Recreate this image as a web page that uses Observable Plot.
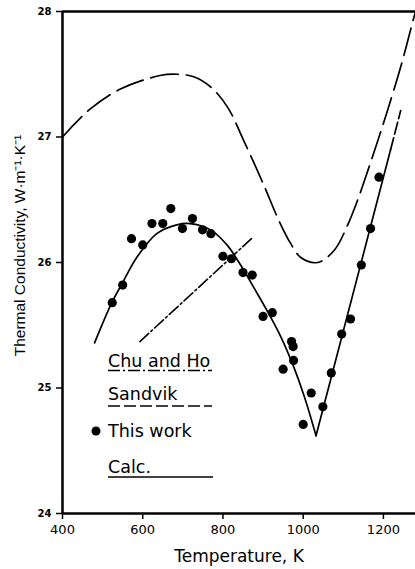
<!DOCTYPE html>
<html><head><meta charset="utf-8">
<script src="https://cdn.jsdelivr.net/npm/d3@7"></script>
<script src="https://cdn.jsdelivr.net/npm/@observablehq/plot@0.6"></script>
<style>
body{margin:0;background:#fff;}
#wrap{position:relative;width:415px;height:569px;}
#legend{position:absolute;left:0;top:0;pointer-events:none;}
</style></head><body><div id="wrap"></div>
<script>
// Measured data ("This work")
const workT = [524, 550, 572, 600, 623, 650, 670, 699, 724, 749, 770, 800, 821, 850, 873, 900, 923, 950, 971, 975, 976, 1000, 1020, 1049, 1070, 1096, 1118, 1145, 1168, 1189];
const workK = [25.68, 25.82, 26.19, 26.14, 26.31, 26.31, 26.43, 26.27, 26.35, 26.26, 26.23, 26.05, 26.03, 25.92, 25.90, 25.57, 25.60, 25.15, 25.37, 25.33, 25.22, 24.71, 24.96, 24.85, 25.12, 25.43, 25.55, 25.98, 26.27, 26.68];

// Calc. curve (left branch, smooth) and right branch (straight)
const calcLeftT = [480, 523, 550, 585, 635, 685, 718, 769, 810, 844, 877, 911, 944, 975, 1003, 1032];
const calcLeftK = [25.36, 25.68, 25.84, 26.04, 26.23, 26.30, 26.31, 26.26, 26.14, 25.98, 25.80, 25.61, 25.41, 25.18, 24.93, 24.62];
const calcRightT = [1032, 1218];
const calcRightK = [24.62, 26.90];
const calcTailT = [1218, 1243];
const calcTailK = [26.90, 27.21];

// Sandvik curve
const sandT = [400, 468, 543, 643, 685, 727, 769, 811, 852, 900, 940, 969, 994, 1036, 1078, 1111, 1136, 1162, 1187, 1212, 1245, 1274, 1280];
const sandK = [27.00, 27.22, 27.38, 27.49, 27.50, 27.48, 27.40, 27.24, 26.97, 26.63, 26.33, 26.15, 26.04, 26.00, 26.10, 26.30, 26.50, 26.74, 26.98, 27.23, 27.58, 27.93, 28.00];

// Chu and Ho line
const chuT = [593, 871];
const chuK = [25.37, 26.19];

const xTicks = [400, 600, 800, 1000, 1200];
const yTicks = [24, 25, 26, 27, 28];
const yTitle = "Thermal Conductivity, W·m⁻¹·K⁻¹";

const pts = (T, K) => T.map((t, i) => ({T: t, K: K[i]}));

const plot = Plot.plot({
  width: 415, height: 569,
  marginTop: 11, marginBottom: 56, marginLeft: 62, marginRight: 0,
  x: {domain: [400, 1280]},
  y: {domain: [24, 28]},
  style: {fontFamily: "DejaVu Sans", background: "#fff", color: "#000", overflow: "visible"},
  marks: [
    Plot.axisX({ticks: xTicks, tickFormat: d => String(d), tickSize: 6, tickPadding: 5, fontSize: 13, label: null, strokeWidth: 1.5}),
    Plot.axisX({ticks: [], tickSize: 0, fontSize: 17, dx: 6, label: "Temperature, K", labelAnchor: "center", labelArrow: "none", labelOffset: 48}),
    Plot.axisY({ticks: yTicks, tickFormat: d => String(d), tickSize: 6, tickPadding: 5, fontSize: 10, fontWeight: "bold", label: null, strokeWidth: 1.5}),
    Plot.text([yTitle], {frameAnchor: "left", rotate: -90, dx: -42, dy: -17, fontSize: 15.5, fontFamily: "Liberation Sans", textAnchor: "middle"}),
    Plot.ruleX([400], {strokeWidth: 2.5}),
    Plot.ruleY([24, 28], {strokeWidth: 2.5}),
    Plot.line(pts(sandT, sandK), {x: "T", y: "K", curve: "catmull-rom", strokeWidth: 1.7, strokeDasharray: "28,8"}),
    Plot.line(pts(chuT, chuK), {x: "T", y: "K", strokeWidth: 1.6, strokeDasharray: "12,3,2,3"}),
    Plot.line(pts(calcLeftT, calcLeftK), {x: "T", y: "K", curve: "catmull-rom", strokeWidth: 1.7}),
    Plot.line(pts(calcRightT, calcRightK), {x: "T", y: "K", strokeWidth: 1.7}),
    Plot.line(pts(calcTailT, calcTailK), {x: "T", y: "K", strokeWidth: 1.7, strokeDasharray: "12,4"}),
    Plot.dot(pts(workT, workK), {x: "T", y: "K", r: 4.6, fill: "#000", stroke: "none"})
  ]
});
document.getElementById("wrap").appendChild(plot);

// Legend overlay
const ns = "http://www.w3.org/2000/svg";
const leg = document.createElementNS(ns, "svg");
leg.setAttribute("id", "legend");
leg.setAttribute("width", 415); leg.setAttribute("height", 569);
leg.innerHTML = `
<g font-family="DejaVu Sans" font-size="17.5" fill="#000">
  <text x="108" y="367">Chu and Ho</text>
  <line x1="108" x2="212" y1="370.5" y2="370.5" stroke="#000" stroke-width="1.5" stroke-dasharray="12,3,2,3"/>
  <text x="108" y="400">Sandvik</text>
  <line x1="108" x2="212" y1="406" y2="406" stroke="#000" stroke-width="1.5" stroke-dasharray="12,4"/>
  <circle cx="96" cy="431" r="4.5"/>
  <text x="108" y="437">This work</text>
  <text x="108" y="473">Calc.</text>
  <line x1="108" x2="213" y1="477" y2="477" stroke="#000" stroke-width="1.5"/>
</g>`;
document.getElementById("wrap").appendChild(leg);
</script></body></html>
